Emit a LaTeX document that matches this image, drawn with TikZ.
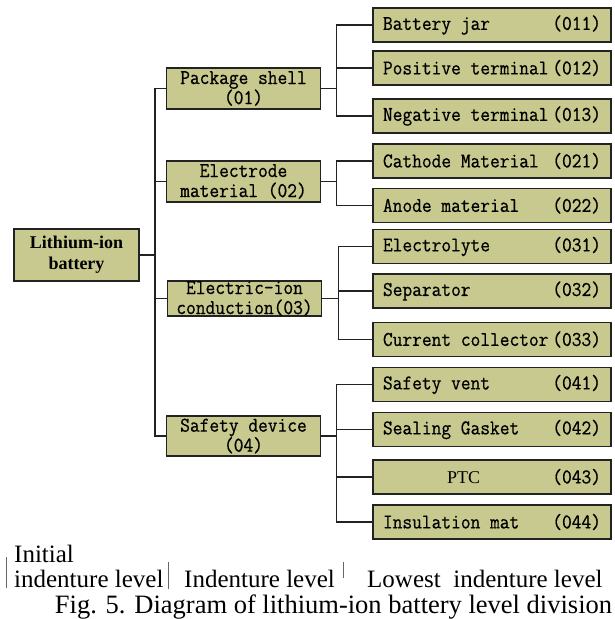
\documentclass[tikz,border=0pt]{standalone}
\usepackage{fontspec}
\setmainfont{Liberation Serif}
\newfontfamily\boxtt[FakeStretch=0.9,FakeBold=0.6]{Latin Modern Mono}
\usetikzlibrary{positioning}
\definecolor{boxKhaki}{HTML}{C8C98E}
\definecolor{boxEdge}{HTML}{222222}
\newcommand{\cellrow}[2]{\makebox[218pt]{#1\hfill#2}}

\begin{document}
\begin{tikzpicture}[x=1pt,y=-1pt,
      lvlbox/.style={draw=boxEdge, line width=1.6pt, fill=boxKhaki, inner sep=0pt,
                     align=center},
      lvlroot/.style={lvlbox, minimum width=125pt, minimum height=52pt,
                      font=\fontsize{18}{21}\selectfont\bfseries},
      lvlone/.style={lvlbox, minimum width=154pt, minimum height=#1,
                     font=\fontsize{21}{20}\boxtt},
      lvltwo/.style={lvlbox, minimum width=238pt, minimum height=34pt,
                     font=\fontsize{21}{20}\boxtt},
      link/.style={line width=1.6pt, boxEdge},
      sepline/.style={line width=0.9pt, black!60},
      every node/.style={font=\small}]
    \useasboundingbox (0,0) rectangle (614,619);
    % initial level
    \node[lvlroot] (batt) at (76.5,255) {Lithium-ion\\battery};
    % indenture level
    \node[lvlone=41pt] (shell) at (243.5,88.5)  {Package shell\\(01)};
    \node[lvlone=41pt] (elec)  at (243.5,181.5) {Electrode\\material (02)};
    \node[lvlone=35pt] (cond)  at (244.5,298.5) {Electric-ion\\conduction(03)};
    \node[lvlone=40pt] (safe)  at (243.5,436)   {Safety device\\(04)};
    % lowest indenture level
    \node[lvltwo] (jar)  at (492,25)    {\cellrow{Battery jar}{(011)}};
    \node[lvltwo] (pos)  at (492,68)    {\cellrow{Positive terminal}{(012)}};
    \node[lvltwo] (neg)  at (492,116)   {\cellrow{Negative terminal}{(013)}};
    \node[lvltwo] (cath) at (492,161)   {\cellrow{Cathode Material}{(021)}};
    \node[lvltwo] (anod) at (492,205.5) {\cellrow{Anode material}{(022)}};
    \node[lvltwo] (elyt) at (492,246.5) {\cellrow{Electrolyte}{(031)}};
    \node[lvltwo] (sepa) at (492,291)   {\cellrow{Separator}{(032)}};
    \node[lvltwo] (coll) at (492,339.5) {\cellrow{Current collector}{(033)}};
    \node[lvltwo] (vent) at (492,384.5) {\cellrow{Safety vent}{(041)}};
    \node[lvltwo] (gask) at (492,429.5) {\cellrow{Sealing Gasket}{(042)}};
    \node[lvltwo] (ptc)  at (492,477)
      {\cellrow{\hspace*{64pt}{\fontsize{18}{18}\rmfamily PTC}}{(043)}};
    \node[lvltwo] (insu) at (492,522)   {\cellrow{Insulation mat}{(044)}};
    % connectors
    \draw[link] (batt.east) -- ++(15,0) coordinate (bus0);
    \foreach \n in {shell,elec,cond,safe}
      \draw[link] (bus0) |- (\n.west);
    \draw[link] (shell.east) -- ++(15,0) coordinate (bus1);
    \foreach \n in {jar,pos,neg}
      \draw[link] (bus1) |- (\n.west);
    \draw[link] (elec.east) -- ++(15,0) coordinate (bus2);
    \foreach \n in {cath,anod}
      \draw[link] (bus2) |- (\n.west);
    \draw[link] (cond.east) -- ++(16,0) coordinate (bus3);
    \foreach \n in {elyt,sepa,coll}
      \draw[link] (bus3) |- (\n.west);
    \draw[link] (safe.east) -- ++(15,0) coordinate (bus4);
    \foreach \n in {vent,gask,ptc,insu}
      \draw[link] (bus4) |- (\n.west);
    % level labels
    \node[anchor=base west, align=left, inner sep=0pt,
          font=\fontsize{25}{25}\selectfont] (initlbl) at (14,587)
          {Initial\\indenture level};
    \node[anchor=base west, inner sep=0pt, font=\fontsize{25}{25}\selectfont]
          (midlbl) at (184,587) {Indenture level};
    \node[anchor=base west, inner sep=0pt, font=\fontsize{25}{25}\selectfont]
          (lowlbl) at (367,587) {Lowest\ \ indenture level};
    \draw[sepline] (6,557) -- (6,588);
    \draw[sepline] (168,562) -- (168,589);
    \draw[sepline] (343,562) -- (343,578);
    \node[anchor=base, inner sep=0pt, font=\fontsize{26.5}{27}\selectfont]
          (caption) at (333.5,613) {Fig. 5. Diagram of lithium-ion battery level division};
  \end{tikzpicture}
\end{document}
